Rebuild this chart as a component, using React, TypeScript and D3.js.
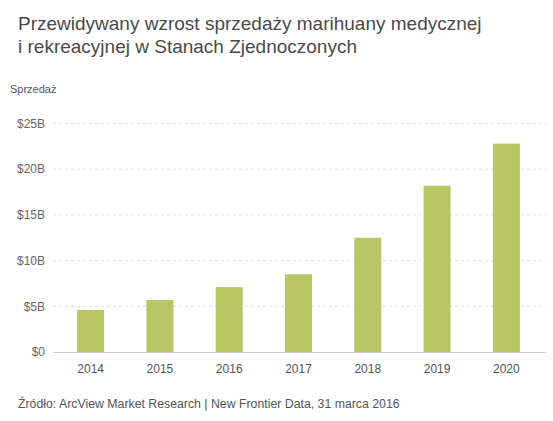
import { useEffect, useRef } from "react";
import * as d3 from "d3";

const years = ["2014", "2015", "2016", "2017", "2018", "2019", "2020"];
const sales = [4.6, 5.7, 7.1, 8.5, 12.5, 18.2, 22.8];
const yTicks = [0, 5, 10, 15, 20, 25];
const titleLines = [
  "Przewidywany wzrost sprzedaży marihuany medycznej",
  "i rekreacyjnej w Stanach Zjednoczonych",
];

export default function App() {
  const ref = useRef<SVGSVGElement>(null);

  useEffect(() => {
    if (!ref.current) return;
    const svg = d3.select(ref.current);
    svg.selectAll("*").remove();

    const font = "'Liberation Sans', Arial, sans-serif";
    const left = 53;
    const right = 546;

    // tytuł
    svg
      .append("g")
      .selectAll("text")
      .data(titleLines)
      .enter()
      .append("text")
      .attr("x", 18)
      .attr("y", (_, i) => 30 + i * 23)
      .style("font-family", font)
      .style("font-size", "19px")
      .style("fill", "#4a4a4a")
      .text((d) => d);

    svg
      .append("text")
      .attr("x", 10)
      .attr("y", 93)
      .style("font-family", font)
      .style("font-size", "11px")
      .style("fill", "#555")
      .text("Sprzedaż");

    const y = d3.scaleLinear().domain([0, 25]).range([352, 123.5]);
    const x = d3
      .scaleBand()
      .domain(years)
      .range([56, 541])
      .paddingInner(0.61)
      .paddingOuter(0.305);

    // siatka
    svg
      .append("g")
      .selectAll("line")
      .data(yTicks.filter((d) => d > 0))
      .enter()
      .append("line")
      .attr("x1", left)
      .attr("x2", right)
      .attr("y1", (d) => y(d))
      .attr("y2", (d) => y(d))
      .style("stroke", "#ddd")
      .style("stroke-width", 1)
      .style("stroke-dasharray", "3,3");

    svg
      .append("g")
      .selectAll("text")
      .data(yTicks)
      .enter()
      .append("text")
      .attr("x", 45)
      .attr("y", (d) => y(d))
      .attr("dy", "0.35em")
      .attr("text-anchor", "end")
      .style("font-family", font)
      .style("font-size", "12px")
      .style("fill", "#666")
      .text((d) => (d === 0 ? "$0" : `$${d}B`));

    // słupki
    svg
      .append("g")
      .selectAll("rect")
      .data(sales)
      .enter()
      .append("rect")
      .attr("x", (_, i) => x(years[i])!)
      .attr("y", (d) => y(d))
      .attr("width", x.bandwidth())
      .attr("height", (d) => y(0) - y(d))
      .style("fill", "#b8c764");

    svg
      .append("line")
      .attr("x1", left)
      .attr("x2", right)
      .attr("y1", y(0) + 0.5)
      .attr("y2", y(0) + 0.5)
      .style("stroke", "#ccc")
      .style("stroke-width", 1);

    svg
      .append("g")
      .selectAll("text")
      .data(years)
      .enter()
      .append("text")
      .attr("x", (d) => x(d)! + x.bandwidth() / 2)
      .attr("y", 373)
      .attr("text-anchor", "middle")
      .style("font-family", font)
      .style("font-size", "12px")
      .style("fill", "#555")
      .text((d) => d);

    svg
      .append("text")
      .attr("x", 18)
      .attr("y", 408)
      .style("font-family", font)
      .style("font-size", "12.3px")
      .style("fill", "#555")
      .text("Źródło: ArcView Market Research | New Frontier Data, 31 marca 2016");
  }, []);

  return (
    <svg
      ref={ref}
      width={553}
      height={421}
      style={{ position: "absolute", left: 0, top: 0, background: "#fff" }}
    />
  );
}
